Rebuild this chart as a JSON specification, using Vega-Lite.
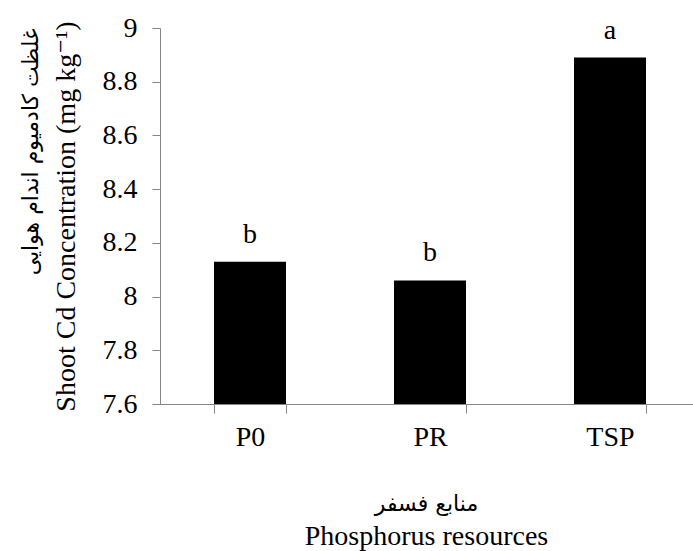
{
  "$schema": "https://vega.github.io/schema/vega-lite/v6.json",
  "width": 533,
  "height": 376,
  "autosize": {"type": "none"},
  "padding": {"left": 160, "top": 28, "right": 0, "bottom": 147},
  "background": "white",
  "data": {
    "values": [
      {"source": "P0", "conc": 8.13, "letter": "b"},
      {"source": "PR", "conc": 8.06, "letter": "b"},
      {"source": "TSP", "conc": 8.89, "letter": "a"}
    ]
  },
  "title": {
    "text": "منابع فسفر",
    "subtitle": "Phosphorus resources",
    "orient": "bottom",
    "anchor": "middle",
    "frame": "group",
    "font": "DejaVu Sans",
    "fontSize": 22,
    "fontWeight": "normal",
    "color": "black",
    "subtitleFont": "Liberation Serif, Times New Roman, DejaVu Serif, serif",
    "subtitleFontSize": 28,
    "subtitleColor": "black",
    "subtitlePadding": 7,
    "offset": 43
  },
  "config": {
    "view": {"stroke": null},
    "axis": {
      "domainColor": "#868686",
      "tickColor": "#868686",
      "domainWidth": 1,
      "tickWidth": 1,
      "labelFont": "Liberation Serif, Times New Roman, DejaVu Serif, serif",
      "labelFontSize": 28,
      "labelColor": "black",
      "titleFont": "Liberation Serif, Times New Roman, DejaVu Serif, serif",
      "titleFontSize": 28,
      "titleFontWeight": "normal",
      "titleColor": "black",
      "grid": false
    }
  },
  "encoding": {
    "x": {
      "field": "source",
      "type": "nominal",
      "sort": null,
      "scale": {"paddingInner": 0.6, "paddingOuter": 0.2806, "align": 0.5347},
      "axis": {"title": null, "labelAngle": 0, "tickBand": "extent", "tickSize": 9, "labelPadding": 10}
    }
  },
  "layer": [
    {
      "mark": {"type": "bar", "color": "black"},
      "encoding": {
        "y": {
          "field": "conc",
          "type": "quantitative",
          "scale": {"domain": [7.6, 9], "zero": false, "nice": false},
          "axis": {
            "title": "Shoot Cd Concentration (mg kg⁻¹)",
            "values": [7.6, 7.8, 8, 8.2, 8.4, 8.6, 8.8, 9],
            "format": "~g",
            "tickSize": 8,
            "labelPadding": 15,
            "titlePadding": 22
          }
        },
        "y2": {"datum": 7.6}
      }
    },
    {
      "mark": {"type": "text", "dy": -19, "baseline": "alphabetic", "font": "Liberation Serif, Times New Roman, DejaVu Serif, serif", "fontSize": 28, "color": "black"},
      "encoding": {
        "y": {"field": "conc", "type": "quantitative", "scale": {"domain": [7.6, 9], "zero": false, "nice": false}, "axis": null},
        "text": {"field": "letter"}
      }
    },
    {
      "mark": {"type": "point", "opacity": 0},
      "encoding": {
        "y": {
          "field": "conc",
          "type": "quantitative",
          "scale": {"domain": [7.6, 9], "zero": false, "nice": false},
          "axis": {
            "orient": "left",
            "title": "غلظت کادمیوم اندام هوایی",
            "titleFont": "DejaVu Sans",
            "titleFontSize": 22,
            "titleAnchor": "end",
            "labels": false,
            "ticks": false,
            "domain": false,
            "offset": 118,
            "titlePadding": 0
          }
        }
      }
    }
  ],
  "resolve": {"scale": {"y": "independent"}}
}
